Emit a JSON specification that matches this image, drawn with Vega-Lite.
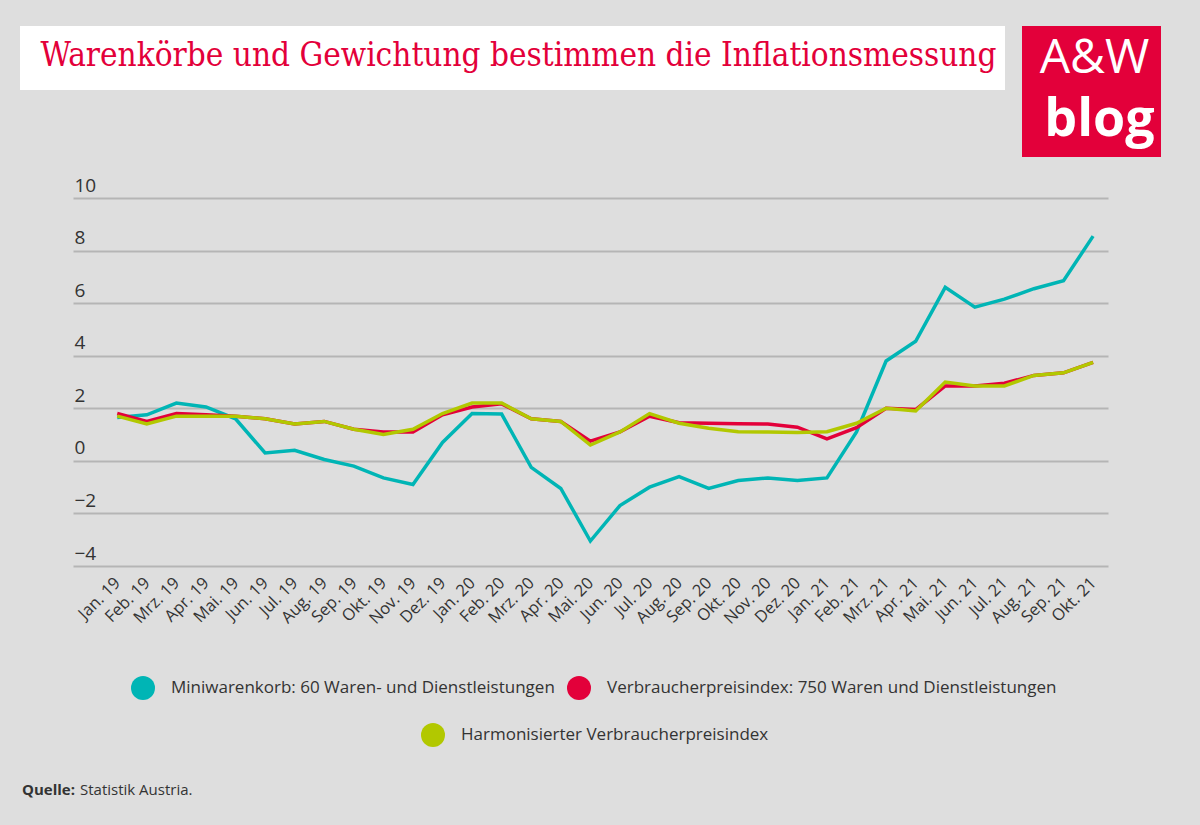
{
  "$schema": "https://vega.github.io/schema/vega-lite/v6.json",
  "background": "#dedede",
  "padding": {"left": 20, "top": 26, "right": 39, "bottom": 29},
  "spacing": 19,
  "center": true,
  "title": {"text": "Quelle:", "orient": "bottom", "anchor": "start", "dx": 2, "offset": -15, "font": "Open Sans", "fontSize": 15, "fontWeight": "bold", "color": "#333333"},
  "vconcat": [
    {
      "spacing": 17,
      "hconcat": [
        {
          "width": 985, "height": 64,
          "view": {"fill": "#ffffff", "stroke": null},
          "data": {"values": [{"t": "Warenkörbe und Gewichtung bestimmen die Inflationsmessung"}]},
          "mark": {"type": "text", "font": "DejaVu Serif Condensed", "fontSize": 33, "color": "#e3003a", "dx": 6, "dy": -2},
          "encoding": {"text": {"field": "t"}}
        },
        {
          "width": 139, "height": 131,
          "view": {"fill": "#e3003a", "stroke": null},
          "layer": [
            {
              "data": {"values": [{"t": "A&W"}]},
              "mark": {"type": "text", "font": "Open Sans", "fontSize": 48, "color": "#ffffff", "dx": 3},
              "encoding": {"text": {"field": "t"}, "y": {"field": "t", "type": "nominal", "scale": {"domain": ["A&W", "blog"]}, "axis": null}}
            },
            {
              "data": {"values": [{"t": "blog"}]},
              "mark": {"type": "text", "font": "Open Sans", "fontSize": 52, "fontWeight": "bold", "color": "#ffffff", "dx": 8, "dy": -4},
              "encoding": {"text": {"field": "t"}, "y": {"field": "t", "type": "nominal", "scale": {"domain": ["A&W", "blog"]}, "axis": null}}
            }
          ]
        }
      ]
    },
    {
      "width": 1035, "height": 368,
      "title": {"text": "Statistik Austria.", "orient": "bottom", "anchor": "start", "dx": 7, "offset": 156, "font": "Open Sans", "fontSize": 15, "fontWeight": "normal", "color": "#333333"},
      "data": {"values": [
        {"month": "Jan. 19", "mini": 1.65, "vpi": 1.8, "hvpi": 1.7},
        {"month": "Feb. 19", "mini": 1.75, "vpi": 1.5, "hvpi": 1.4},
        {"month": "Mrz. 19", "mini": 2.2, "vpi": 1.8, "hvpi": 1.7},
        {"month": "Apr. 19", "mini": 2.05, "vpi": 1.75, "hvpi": 1.7},
        {"month": "Mai. 19", "mini": 1.6, "vpi": 1.7, "hvpi": 1.7},
        {"month": "Jun. 19", "mini": 0.3, "vpi": 1.6, "hvpi": 1.6},
        {"month": "Jul. 19", "mini": 0.4, "vpi": 1.4, "hvpi": 1.4},
        {"month": "Aug. 19", "mini": 0.05, "vpi": 1.5, "hvpi": 1.5},
        {"month": "Sep. 19", "mini": -0.2, "vpi": 1.2, "hvpi": 1.2},
        {"month": "Okt. 19", "mini": -0.65, "vpi": 1.1, "hvpi": 1.0},
        {"month": "Nov. 19", "mini": -0.9, "vpi": 1.1, "hvpi": 1.2},
        {"month": "Dez. 19", "mini": 0.7, "vpi": 1.75, "hvpi": 1.8},
        {"month": "Jan. 20", "mini": 1.8, "vpi": 2.05, "hvpi": 2.2},
        {"month": "Feb. 20", "mini": 1.78, "vpi": 2.17, "hvpi": 2.2},
        {"month": "Mrz. 20", "mini": -0.25, "vpi": 1.6, "hvpi": 1.6},
        {"month": "Apr. 20", "mini": -1.05, "vpi": 1.5, "hvpi": 1.5},
        {"month": "Mai. 20", "mini": -3.05, "vpi": 0.75, "hvpi": 0.6},
        {"month": "Jun. 20", "mini": -1.7, "vpi": 1.1, "hvpi": 1.1},
        {"month": "Jul. 20", "mini": -1.0, "vpi": 1.7, "hvpi": 1.8},
        {"month": "Aug. 20", "mini": -0.6, "vpi": 1.45, "hvpi": 1.43},
        {"month": "Sep. 20", "mini": -1.05, "vpi": 1.43, "hvpi": 1.24},
        {"month": "Okt. 20", "mini": -0.75, "vpi": 1.41, "hvpi": 1.11},
        {"month": "Nov. 20", "mini": -0.65, "vpi": 1.4, "hvpi": 1.1},
        {"month": "Dez. 20", "mini": -0.75, "vpi": 1.28, "hvpi": 1.08},
        {"month": "Jan. 21", "mini": -0.65, "vpi": 0.84, "hvpi": 1.11},
        {"month": "Feb. 21", "mini": 1.1, "vpi": 1.26, "hvpi": 1.43},
        {"month": "Mrz. 21", "mini": 3.8, "vpi": 2.0, "hvpi": 2.0},
        {"month": "Apr. 21", "mini": 4.55, "vpi": 1.95, "hvpi": 1.9},
        {"month": "Mai. 21", "mini": 6.6, "vpi": 2.85, "hvpi": 3.0},
        {"month": "Jun. 21", "mini": 5.85, "vpi": 2.85, "hvpi": 2.85},
        {"month": "Jul. 21", "mini": 6.15, "vpi": 2.95, "hvpi": 2.85},
        {"month": "Aug. 21", "mini": 6.55, "vpi": 3.25, "hvpi": 3.25},
        {"month": "Sep. 21", "mini": 6.85, "vpi": 3.35, "hvpi": 3.35},
        {"month": "Okt. 21", "mini": 8.55, "vpi": 3.75, "hvpi": 3.75}
      ]},
      "transform": [{"fold": ["mini", "vpi", "hvpi"], "as": ["series", "value"]}],
      "encoding": {
        "x": {
          "field": "month", "type": "ordinal", "sort": null,
          "scale": {"type": "point", "padding": 1.042, "align": 0.748},
          "axis": {"title": null, "labelAngle": -45, "labelAlign": "right", "labelBaseline": "middle", "labelPadding": 14, "labelFontSize": 16.5, "labelFont": "Open Sans", "labelColor": "#333333", "ticks": false, "tickSize": 0, "domain": false, "grid": false, "labelOverlap": false}
        },
        "y": {
          "field": "value", "type": "quantitative",
          "scale": {"domain": [-4, 10], "nice": false, "zero": false},
          "axis": {"title": null, "values": [-4, -2, 0, 2, 4, 6, 8, 10], "grid": true, "gridColor": "#b5b5b5", "gridWidth": 2, "domain": false, "ticks": false, "tickSize": 0, "labelAlign": "left", "labelBaseline": "alphabetic", "labelPadding": -1, "labelOffset": -7, "labelFontSize": 19, "labelFont": "Open Sans", "labelColor": "#333333"}
        }
      },
      "layer": [
        {
          "transform": [{"filter": "datum.series != 'hvpi'"}],
          "mark": {"type": "line", "strokeWidth": 3.5},
          "encoding": {
            "color": {
              "field": "series", "type": "nominal",
              "scale": {"domain": ["mini", "vpi"], "range": ["#00b5b5", "#e3003a"]},
              "legend": {"title": null, "orient": "none", "legendX": 111, "legendY": 650, "direction": "horizontal", "symbolType": "circle", "symbolSize": 576, "symbolStrokeWidth": 0, "labelFont": "Open Sans", "labelFontSize": 17, "labelColor": "#333333", "labelOffset": 16, "columnPadding": 12, "labelLimit": 0, "padding": 0,
                "labelExpr": "datum.label == 'mini' ? 'Miniwarenkorb: 60 Waren- und Dienstleistungen' : 'Verbraucherpreisindex: 750 Waren und Dienstleistungen'",
                "encode": {"symbols": {"update": {"fill": {"scale": "color", "field": "value"}, "opacity": {"value": 1}}}}}
            }
          }
        },
        {
          "transform": [{"filter": "datum.series == 'hvpi'"}],
          "mark": {"type": "line", "strokeWidth": 3.5},
          "encoding": {
            "stroke": {
              "field": "series", "type": "nominal",
              "scale": {"domain": ["hvpi"], "range": ["#b2c800"]},
              "legend": {"title": null, "orient": "none", "legendX": 401, "legendY": 697, "direction": "horizontal", "symbolType": "circle", "symbolSize": 576, "symbolStrokeWidth": 0, "labelFont": "Open Sans", "labelFontSize": 17, "labelColor": "#333333", "labelOffset": 16, "labelLimit": 0, "padding": 0,
                "labelExpr": "'Harmonisierter Verbraucherpreisindex'",
                "encode": {"symbols": {"update": {"fill": {"scale": "stroke", "field": "value"}, "opacity": {"value": 1}}}}}
            }
          }
        }
      ]
    }
  ],
  "config": {
    "view": {"stroke": null}
  }
}
